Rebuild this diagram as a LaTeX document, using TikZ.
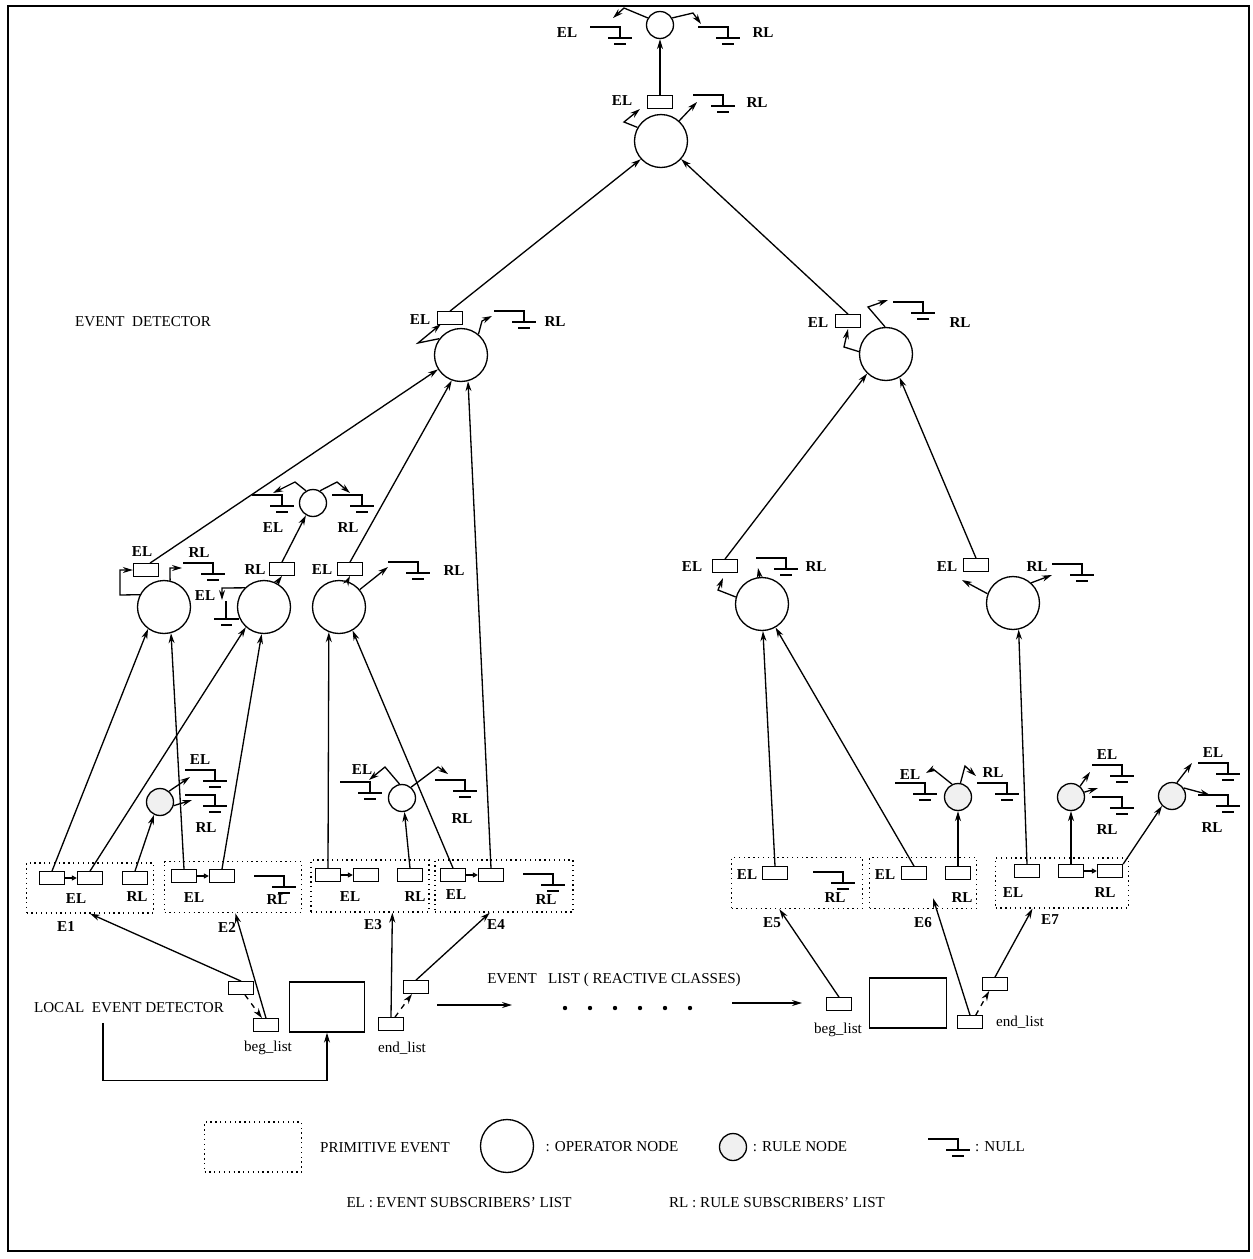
\documentclass[tikz,border=0pt]{standalone}
\usepackage{fontspec}
\setmainfont{Liberation Serif}
\usetikzlibrary{arrows.meta,calc}

\tikzset{
  opnode/.style={circle, draw, minimum size=1.06cm, inner sep=0pt},
  rulenode/.style={circle, draw, minimum size=0.54cm, inner sep=0pt, fill=black!6},
  rulewhite/.style={circle, draw, minimum size=0.54cm, inner sep=0pt},
  lbox/.style={rectangle, draw, minimum width=0.5cm, minimum height=0.25cm, inner sep=0pt},
  primev/.style={rectangle, draw, dotted, inner sep=0pt},
  lbl/.style={font=\fontsize{8.6}{10}\selectfont\bfseries, inner sep=0pt},
  txt/.style={inner sep=0pt},
  arr/.style={-{Stealth[length=2mm,width=1.2mm]}},
  inarr/.style={-{Triangle[open,length=1mm,width=1mm]}},
  nullsym/.pic={
    \draw (0,0) -- (30,0) -- (30,11);
    \draw (18,11) -- (42,11);
    \draw (24,17) -- (36,17);
  },
}

\begin{document}
\begin{tikzpicture}[x=0.02cm, y=-0.02cm, line width=0.75pt, font=\fontsize{8.6}{10}\selectfont]
\useasboundingbox (0,0) rectangle (1253,1259);
% frame
\draw (8,6) rectangle (1249,1251);

% operator nodes
\node[opnode] (optop) at (661,141) {};
\node[opnode] (opl) at (461,355) {};
\node[opnode] (opr) at (886,354) {};
\node[opnode] (opla) at (164,607) {};
\node[opnode] (oplb) at (264,607) {};
\node[opnode] (oplc) at (339,607) {};
\node[opnode] (opra) at (762,604) {};
\node[opnode] (oprb) at (1013,603) {};

% rule nodes
\node[rulewhite] (r0) at (660,25) {};
\node[rulewhite] (rulelb) at (313,503) {};
\node[rulenode] (rule1) at (160,802) {};
\node[rulewhite] (rule3) at (402,798) {};
\node[rulenode] (rule6) at (958,797) {};
\node[rulenode] (rule7a) at (1071,797) {};
\node[rulenode] (rule7b) at (1172,796) {};

% subscriber list boxes of operator nodes
\node[lbox] (topel) at (660,102) {};
\node[lbox] (lel) at (450,318) {};
\node[lbox] (rel) at (848,321) {};
\node[lbox] (lael) at (146,570) {};
\node[lbox] (lbrl) at (282,569) {};
\node[lbox] (lcel) at (350,569) {};
\node[lbox] (rael) at (725,566) {};
\node[lbox] (rbel) at (976,565) {};

% primitive events
\node[primev, minimum width=2.54cm, minimum height=1cm] (E1) at (90,888) {};
\node[primev, minimum width=2.74cm, minimum height=1.02cm] (E2) at (233,887) {};
\node[primev, minimum width=2.36cm, minimum height=1.04cm] (E3) at (370,886) {};
\node[primev, minimum width=2.76cm, minimum height=1.04cm] (E4) at (504,886) {};
\node[primev, minimum width=2.62cm, minimum height=1.02cm] (E5) at (797,883) {};
\node[primev, minimum width=2.14cm, minimum height=1.02cm] (E6) at (923,883) {};
\node[primev, minimum width=2.66cm, minimum height=1cm] (E7) at (1062,883) {};
\node[lbl] (nE1) at (66,926) {E1};
\node[lbl] (nE2) at (227,927) {E2};
\node[lbl] (nE3) at (373,925) {E3};
\node[lbl] (nE4) at (496,925) {E4};
\node[lbl] (nE5) at (772,923) {E5};
\node[lbl] (nE6) at (923,923) {E6};
\node[lbl] (nE7) at (1050,920) {E7};

% boxes inside the primitive events
\node[lbox] (e1a) at (52,878) {};
\node[lbox] (e1b) at (90,878) {};
\node[lbox] (e1r) at (135,878) {};
\node[lbox] (e2a) at (184,876) {};
\node[lbox] (e2b) at (222,876) {};
\node[lbox] (e3a) at (328,875) {};
\node[lbox] (e3b) at (366,875) {};
\node[lbox] (e3r) at (410,875) {};
\node[lbox] (e4a) at (453,875) {};
\node[lbox] (e4b) at (491,875) {};
\node[lbox] (e5a) at (775,873) {};
\node[lbox] (e6a) at (914,873) {};
\node[lbox] (e6r) at (958,873) {};
\node[lbox] (e7a) at (1027,871) {};
\node[lbox] (e7b) at (1071,871) {};
\node[lbox] (e7c) at (1110,871) {};
\draw[inarr] (e1a.east) -- (e1b.west);
\draw[inarr] (e2a.east) -- (e2b.west);
\draw[inarr] (e3a.east) -- (e3b.west);
\draw[inarr] (e4a.east) -- (e4b.west);
\draw[inarr] (e7b.east) -- (e7c.west);

% links up the tree
\draw[arr] (topel.north) -- (r0.south);
\draw[arr] (lel.north) -- (optop.222);
\draw[arr] (rel.north) -- (optop.318);
\draw[arr] (lael.60) -- (opl.212);
\draw[arr] (lcel.north) -- (opl.250);
\draw[arr] (e4b.north) -- (opl.285);
\draw[arr] (rael.north) -- (opr.226);
\draw[arr] (rbel.north) -- (opr.300);
\draw[arr] (e1a.north) -- (opla.234);
\draw[arr] (e2a.north) -- (opla.285);
\draw[arr] (e1b.north) -- (oplb.228);
\draw[arr] (e2b.north) -- (oplb.265);
\draw[arr] (lbrl.north) -- (rulelb.240);
\draw[arr] (e3a.north) -- (oplc.248);
\draw[arr] (e4a.north) -- (oplc.300);
\draw[arr] (e1r.north) -- (rule1.245);
\draw[arr] (e3r.north) -- (rule3.280);
\draw[arr] (e5a.north) -- (opra.272);
\draw[arr] (e6a.north) -- (opra.300);
\draw[arr] (e6r.north) -- (rule6.south);
\draw[arr] (e7a.north) -- (oprb.282);
\draw[arr] (e7b.north) -- (rule7a.south);
\draw[arr] (e7c.north east) -- (rule7b.225);

% EL / RL pointers of the nodes
\draw[arr] (r0.150) -- (624,8) -- (613,18);
\draw[arr] (r0.30) -- (693,13) -- (701,24);
\draw[arr] (optop.150) -- (624,122) -- (640,109);
\draw[arr] (optop.48) -- (697,102);
\draw[arr] (opl.143) -- (418,343) -- (441,324);
\draw[arr] (opl.50) -- (482,321) -- (492,316);
\draw[arr] (opr.175) -- (844,347) -- (848,329);
\draw[arr] (opr.92) -- (868,307) -- (888,300);
\draw[arr] (opla.153) -- (120,595) -- (120,570) -- (lael.west);
\draw[arr] (opla.77) -- (170,568) -- (182,568);
\draw[arr] (oplb.135) -- (222,588) -- (222,600);
\draw (226,601) -- (226,619) (214,619) -- (239,619) (221,625) -- (232,625);
\draw[arr] (oplb.62) -- (lbrl.south);
\draw[arr] (rulelb.120) -- (295,482) -- (273,493);
\draw[arr] (rulelb.60) -- (337,482) -- (350,493);
\draw[arr] (oplc.72) -- (lcel.south);
\draw[arr] (oplc.40) -- (388,567);
\draw[arr] (opra.165) -- (718,590) -- (723,578);
\draw[arr] (opra.95) -- (758,568);
\draw[arr] (oprb.160) -- (962,580);
\draw[arr] (oprb.48) -- (1052,575);
\draw[arr] (rule1.50) -- (190,777);
\draw[arr] (rule1.-15) -- (192,800);
\draw[arr] (rule3.100) -- (385,767) -- (369,780);
\draw[arr] (rule3.50) -- (438,767) -- (448,774);
\draw[arr] (rule6.115) -- (933,769) -- (926,773);
\draw[arr] (rule6.80) -- (965,766) -- (976,776);
\draw[arr] (rule7a.50) -- (1090,772);
\draw[arr] (rule7a.20) -- (1098,788);
\draw[arr] (rule7b.70) -- (1192,763);
\draw[arr] (rule7b.35) -- (1210,795);

% null ends
\foreach \p in {(590,27),(698,27),(693,95),(494,311),(893,302),(183,563),
  (252,495),(332,495),(388,562),(756,558),(1052,564),(185,770),(185,795),
  (340,782),(435,780),(254,876),(523,874),(813,872),(895,783),(977,783),
  (1092,765),(1092,797),(1198,763),(1198,795)}
  \pic at \p {nullsym};

% EL / RL labels
\node[lbl] (el0) at (567,33) {EL};
\node[lbl] (rl0) at (763,33) {RL};
\node[lbl] (elt) at (622,101) {EL};
\node[lbl] (rlt) at (757,103) {RL};
\node[lbl] (ell) at (420,320) {EL};
\node[lbl] (rll) at (555,322) {RL};
\node[lbl] (elr) at (818,323) {EL};
\node[lbl] (rlr) at (960,323) {RL};
\node[lbl] (ella) at (142,552) {EL};
\node[lbl] (rlla) at (199,553) {RL};
\node[lbl] (elrb) at (273,528) {EL};
\node[lbl] (rlrb) at (348,528) {RL};
\node[lbl] (rllb) at (255,570) {RL};
\node[lbl] (ellb) at (205,596) {EL};
\node[lbl] (ellc) at (322,570) {EL};
\node[lbl] (rllc) at (454,571) {RL};
\node[lbl] (elra) at (692,567) {EL};
\node[lbl] (rlra) at (816,567) {RL};
\node[lbl] (elrb2) at (947,567) {EL};
\node[lbl] (rlrb2) at (1037,567) {RL};
\node[lbl] (elr1) at (200,760) {EL};
\node[lbl] (rlr1) at (206,828) {RL};
\node[lbl] (elr3) at (362,770) {EL};
\node[lbl] (rlr3) at (462,819) {RL};
\node[lbl] (elr6) at (910,775) {EL};
\node[lbl] (rlr6) at (993,773) {RL};
\node[lbl] (elr7a) at (1107,755) {EL};
\node[lbl] (rlr7a) at (1107,830) {RL};
\node[lbl] (elr7b) at (1213,753) {EL};
\node[lbl] (rlr7b) at (1212,828) {RL};
\node[lbl] (ele1) at (76,899) {EL};
\node[lbl] (rle1) at (137,897) {RL};
\node[lbl] (ele2) at (194,898) {EL};
\node[lbl] (rle2) at (277,900) {RL};
\node[lbl] (ele3) at (350,897) {EL};
\node[lbl] (rle3) at (415,897) {RL};
\node[lbl] (ele4) at (456,895) {EL};
\node[lbl] (rle4) at (546,900) {RL};
\node[lbl] (ele5) at (747,875) {EL};
\node[lbl] (rle5) at (835,898) {RL};
\node[lbl] (ele6) at (885,875) {EL};
\node[lbl] (rle6) at (962,898) {RL};
\node[lbl] (ele7) at (1013,893) {EL};
\node[lbl] (rle7) at (1105,893) {RL};

\node[txt] (evdet) at (143,322) {EVENT\ \ DETECTOR};

% local event detector
\node[txt] (ledlbl) at (129,1008) {LOCAL\ \ EVENT DETECTOR};
\node[draw, minimum width=1.5cm, minimum height=1cm] (ledbox) at (327,1007) {};
\node[lbox] (begA) at (241,988) {};
\node[lbox] (begB) at (266,1025) {};
\node[lbox] (endC) at (391,1024) {};
\node[lbox] (endD) at (416,987) {};
\node[txt] (begl) at (268,1048) {beg\_list};
\node[txt] (endl) at (402,1048) {end\_list};
\draw[arr] (begA.north) -- (E1.south);
\draw[arr, dashed] (begA.300) -- (begB.120);
\draw[arr] (begB.north) -- (E2.-85);
\draw[arr] (endC.north) -- (E3.-50);
\draw[arr, dashed] (endC.60) -- (endD.240);
\draw[arr] (endD.north) -- (E4.-118);
\draw[arr] ($(ledlbl.south)+(-26,9)$) -- ++(0,58) -| (ledbox.south);

% event list
\node[txt] (evlist) at (614,980) {EVENT\ \ \ LIST ( REACTIVE CLASSES)};
\coordinate (ev1) at (437,1005);
\coordinate (ev2) at (512,1005);
\coordinate (ev3) at (732,1003);
\coordinate (ev4) at (802,1003);
\draw[arr] (ev1) -- (ev2);
\draw[arr] (ev3) -- (ev4);
\foreach \x in {565,590,...,690}
  \fill (\x,1008) circle (2.2);

% second local detector
\node[lbox] (begR) at (839,1004) {};
\node[draw, minimum width=1.54cm, minimum height=1cm] (bigR) at (908,1003) {};
\node[lbox] (endE) at (970,1022) {};
\node[lbox] (endF) at (995,984) {};
\node[txt] (beglR) at (838,1030) {beg\_list};
\node[txt] (endlR) at (1020,1022) {end\_list};
\draw[arr] (begR.north) -- (E5.-124);
\draw[arr] (endE.north) -- ($(E6.south)+(10,-11)$);
\draw[arr, dashed] (endE.50) -- (endF.230);
\draw[arr] (endF.north) -- (E7.-139);

% legend
\node[primev, minimum width=1.94cm, minimum height=1cm] (legprim) at (253,1147) {};
\node[txt] (legprimt) at (385,1148) {PRIMITIVE EVENT};
\node[opnode] (legop) at (507,1146) {};
\node[txt] (legopt) at (612,1147) {: OPERATOR NODE};
\node[rulenode] (legrule) at (733,1147) {};
\node[txt] (legrulet) at (800,1147) {: RULE NODE};
\pic at (928,1139) {nullsym};
\node[txt] (legnullt) at (1000,1147) {: NULL};
\node[txt] (legel) at (459,1203) {EL : EVENT SUBSCRIBERS' LIST};
\node[txt] (legrl) at (777,1203) {RL : RULE SUBSCRIBERS' LIST};
\end{tikzpicture}
\end{document}
